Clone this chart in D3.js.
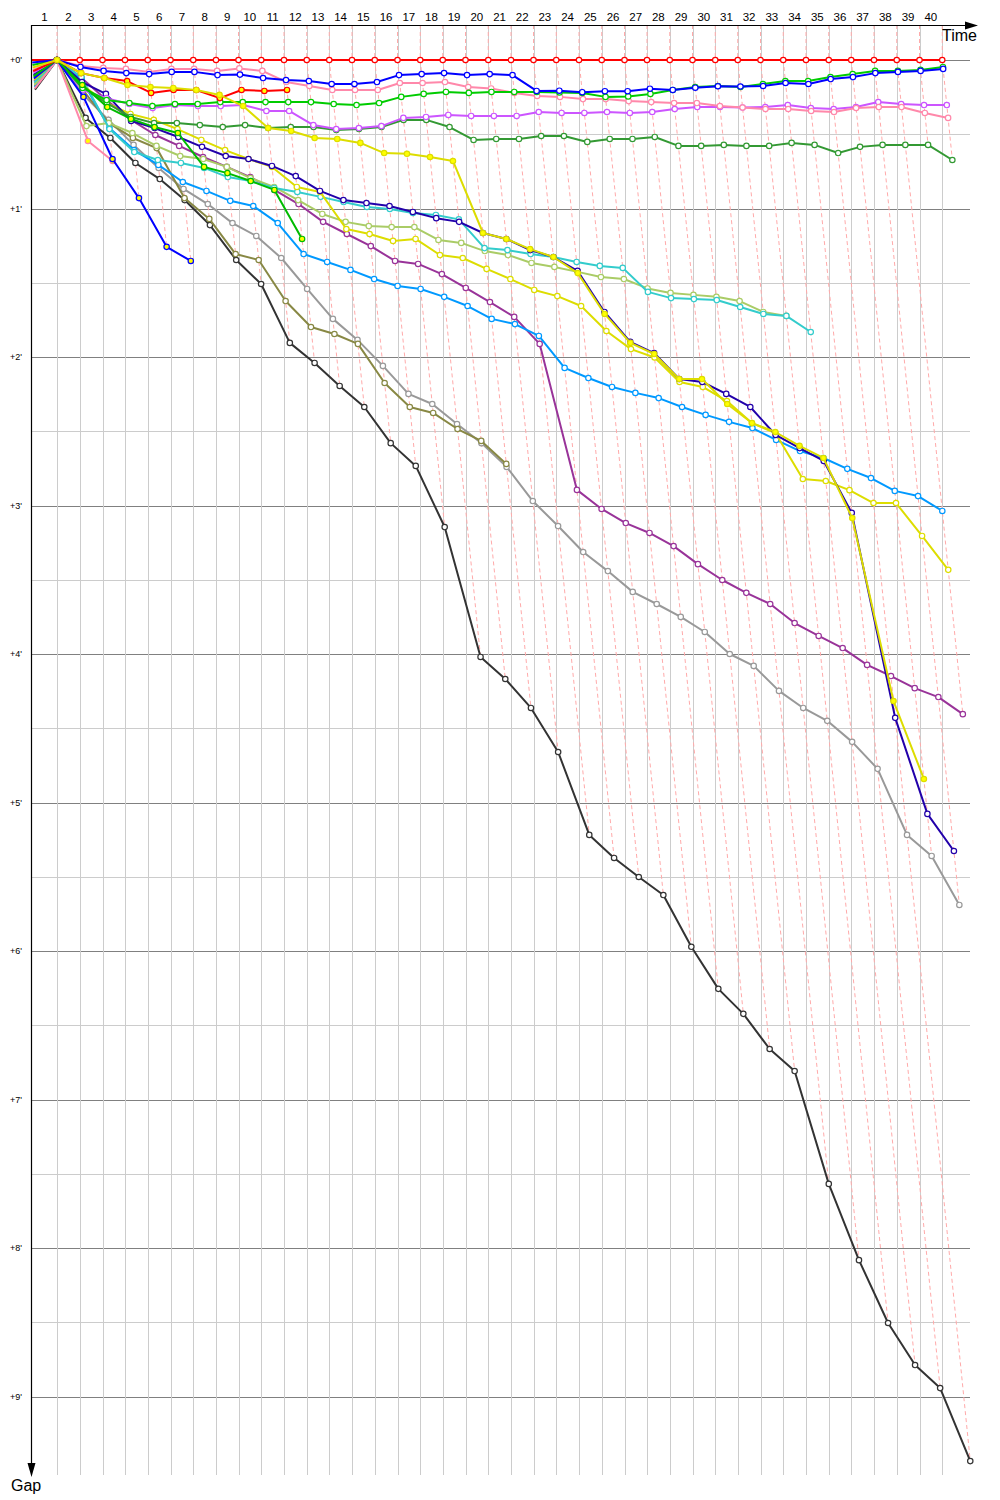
<!DOCTYPE html>
<html>
<head>
<meta charset="utf-8">
<script src="https://cdn.jsdelivr.net/npm/d3@7"></script>
<style>
  body { margin: 0; background: #fff; }
  svg { display: block; font-family: "Liberation Sans", Arial, sans-serif; }
</style>
</head>
<body>
<div id="chart"></div>
<script>
// leader lap times (s), lap 1 .. 40
const leaderLapTimes = [100, 91, 91, 90, 91, 91, 91, 91, 90, 91,
                        91, 91, 90, 91, 91, 91, 91, 90, 91, 91,
                        91, 90, 91, 91, 91, 91, 90, 91, 91, 91,
                        90, 91, 91, 91, 91, 90, 91, 91, 91, 91];
const lapLabels = ['1','2','3','4','5','6','7','8','9','10','11','12','13','14','15','16','17','18','19','20',
                   '21','22','23','24','25','26','27','28','29','30','31','32','33','34','35','36','37','38','39','40'];
const gapTickLabels = ["+0'", "+1'", "+2'", "+3'", "+4'", "+5'", "+6'", "+7'", "+8'", "+9'"];

// gap to leader in seconds, from lap 0 to the last lap completed
const gapsLeader = [0, 0,0,0,0,0,0,0,0,0,0, 0,0,0,0,0,0,0,0,0,0, 0,0,0,0,0,0,0,0,0,0, 0,0,0,0,0,0,0,0,0,0];
const gapsBlue = [1.0, 0, 2.8, 4.4, 5.3, 5.7, 4.8, 4.8, 6.1, 5.9, 7.3,
  8.1, 8.5, 9.7, 9.7, 8.9, 6.1, 5.7, 5.3, 6.1, 5.7,
  6.1, 12.5, 12.4, 13.0, 12.6, 12.6, 11.6, 12.1, 11.2, 10.6,
  10.7, 10.5, 9.3, 9.7, 7.7, 6.9, 5.3, 4.8, 4.4, 3.6];
const gapsGreen = [2.0, 0, 11.3, 16.2, 17.4, 18.6, 17.8, 17.8, 17.0, 17.0, 17.0,
  17.0, 17.0, 17.8, 18.2, 17.4, 14.9, 13.7, 12.9, 13.3, 12.9,
  12.9, 12.9, 13.1, 13.3, 14.9, 14.7, 13.7, 12.1, 10.9, 10.5,
  10.9, 9.7, 8.5, 8.5, 6.9, 5.7, 4.4, 4.4, 4.0, 2.8];
const gapsPink = [4.0, 0, 2.4, 3.2, 3.6, 4.8, 3.6, 3.6, 4.4, 3.4, 4.4,
  8.9, 10.5, 12.1, 12.1, 12.1, 9.3, 9.3, 8.9, 10.9, 11.5,
  13.3, 14.5, 14.9, 15.8, 15.8, 16.6, 17.0, 17.4, 17.4, 18.6,
  19.2, 19.8, 19.8, 20.6, 21.0, 19.4, 19.0, 19.0, 21.4, 23.4];
const gapsViolet = [5.0, 0, 12.1, 15.4, 17.8, 19.4, 18.2, 18.6, 18.6, 18.2, 20.6,
  20.6, 26.3, 27.9, 27.5, 26.7, 23.4, 23.0, 22.2, 22.6, 22.6,
  22.6, 21.0, 21.4, 21.4, 21.0, 21.4, 21.0, 19.8, 19.0, 19.0,
  19.2, 19.0, 18.2, 19.4, 19.8, 19.0, 17.0, 17.8, 18.2, 18.2];
const gapsDarkGreen = [7.0, 0, 11.3, 17.4, 23.0, 25.5, 25.5, 26.3, 27.1, 26.3, 27.5,
  27.1, 27.1, 28.3, 27.9, 27.1, 24.2, 24.2, 27.1, 32.3, 31.9,
  31.9, 30.7, 30.7, 33.1, 31.9, 31.9, 31.1, 34.7, 34.7, 34.3,
  34.7, 34.7, 33.5, 34.3, 37.6, 35.1, 34.3, 34.3, 34.3, 40.4];
const gapsNavy = [6.0, 0, 8.9, 13.7, 24.6, 27.5, 31.1, 35.1, 38.8, 40.0, 42.8,
  46.9, 52.9, 56.6, 57.8, 59.0, 61.4, 63.9, 65.4, 69.9, 72.3,
  76.8, 79.6, 85.2, 101.8, 113.9, 118.4, 128.9, 130.1, 134.9, 140.2,
  151.5, 156.8, 162.0, 183.0, 265.8, 304.6, 319.6];
const gapsYellowA = [3.0, 0, 5.3, 7.3, 10.1, 10.9, 11.3, 12.1, 14.1, 18.6, 27.5,
  28.7, 31.5, 31.9, 33.5, 37.6, 37.9, 39.2, 40.8, 69.9, 72.3,
  76.4, 79.6, 86.1, 102.6, 114.3, 118.8, 128.9, 128.9, 139.0, 146.7,
  150.3, 155.9, 160.8, 185.1, 259.0, 290.5];
const gapsRedB = [4.5, 0, 5.3, 7.3, 8.5, 13.3, 12.1, 12.1, 15.4, 12.1, 12.5, 12.1];
const gapsYellowB = [8.0, 0, 10.1, 17.4, 21.8, 24.2, 27.9, 32.3, 36.4, 40.0, 43.2,
  51.3, 53.3, 68.3, 70.3, 73.1, 72.3, 78.8, 80.0, 84.4, 88.5,
  92.9, 95.4, 99.4, 109.5, 116.8, 120.2, 130.1, 132.1, 137.8, 146.7,
  150.7, 169.3, 170.1, 173.8, 179.0, 179.0, 192.3, 206.0];
const gapsCyan = [9.0, 0, 6.9, 27.9, 37.2, 40.4, 41.6, 43.6, 47.3, 48.9, 51.7,
  53.3, 55.3, 57.4, 59.4, 60.2, 61.8, 62.6, 64.4, 76.0, 76.8,
  78.4, 79.6, 81.6, 83.2, 84.0, 93.7, 96.2, 96.6, 97.0, 99.8,
  102.6, 103.4, 109.9];
const gapsLime = [10.0, 0, 26.7, 25.5, 29.5, 34.7, 38.8, 40.0, 43.2, 47.7, 51.3,
  56.6, 62.2, 65.4, 67.1, 67.5, 67.5, 72.7, 73.9, 77.2, 78.8,
  82.0, 83.6, 85.6, 87.7, 88.5, 92.3, 94.1, 94.9, 95.7, 97.4,
  101.8, 103.4];
const gapsSky = [11.0, 0, 8.1, 27.5, 36.4, 42.4, 49.3, 52.9, 56.9, 59.0, 65.9,
  78.4, 81.6, 84.8, 88.5, 91.3, 92.5, 95.7, 99.4, 104.6, 106.7,
  111.5, 124.4, 128.5, 132.1, 134.5, 136.6, 140.2, 143.4, 146.2, 148.7,
  153.5, 158.0, 160.8, 165.2, 168.9, 174.1, 176.2, 182.2];
const gapsPurple = [8.5, 0, 7.3, 16.2, 24.2, 30.3, 34.7, 39.2, 43.2, 47.3, 52.5,
  58.2, 65.4, 70.3, 75.2, 81.2, 82.4, 86.5, 92.1, 97.8, 103.8,
  114.7, 173.7, 181.4, 187.1, 191.1, 196.4, 203.7, 210.1, 215.3, 219.8,
  227.5, 232.7, 237.6, 244.4, 248.9, 253.8, 257.4, 264.3];
const gapsGrey = [9.5, 0, 14.1, 24.2, 34.3, 43.6, 52.1, 58.2, 65.9, 71.1, 80.0,
  92.5, 104.6, 113.1, 123.6, 134.9, 139.0, 147.1, 154.8, 164.4, 178.2,
  188.3, 198.8, 206.5, 214.9, 219.8, 225.0, 231.1, 240.0, 244.8, 254.9,
  261.8, 267.0, 275.5, 286.4, 313.1, 321.6, 341.4];
const gapsOlive = [10.5, 0, 12.1, 25.5, 31.5, 35.6, 55.8, 64.2, 78.4, 80.8, 97.4,
  107.9, 110.7, 114.7, 130.5, 140.2, 142.6, 149.1, 153.9, 163.2];
const gapsBlack = [12.0, 0, 23.4, 31.5, 41.6, 48.1, 56.6, 66.7, 80.8, 90.5, 114.3,
  122.4, 131.7, 140.2, 154.8, 164.0, 188.7, 241.2, 250.1, 261.8, 279.6,
  313.1, 322.4, 330.1, 337.4, 358.3, 375.3, 385.4, 399.6, 408.5, 454.1,
  484.9, 510.3, 527.3, 536.6, 566.1];
const gapsGreenB = [6.5, 0, 10.1, 19.0, 23.8, 27.1, 29.5, 43.2, 45.7, 48.9, 52.5, 72.3];
const gapsBlueB = [7.5, 0, 14.9, 40.0, 55.8, 75.5, 81.2];
const gapsPinkB = [11.5, 0, 32.7, 40.8];

// drawing order, colour, marker fill
const series = [
  { gaps: gapsLeader,    color: '#ff0000', fill: '#ffffff' },
  { gaps: gapsBlack,     color: '#333333', fill: '#ffffff' },
  { gaps: gapsGrey,      color: '#999999', fill: '#ffffff' },
  { gaps: gapsOlive,     color: '#888844', fill: '#ffffff' },
  { gaps: gapsPurple,    color: '#993399', fill: '#ffffff' },
  { gaps: gapsSky,       color: '#0099ff', fill: '#ffffff' },
  { gaps: gapsLime,      color: '#aacc66', fill: '#ffffff' },
  { gaps: gapsCyan,      color: '#33cccc', fill: '#ffffff' },
  { gaps: gapsYellowB,   color: '#dddd00', fill: '#ffffff' },
  { gaps: gapsNavy,      color: '#2200aa', fill: '#ffffff' },
  { gaps: gapsDarkGreen, color: '#339933', fill: '#ffffff' },
  { gaps: gapsViolet,    color: '#cc55ff', fill: '#ffffff' },
  { gaps: gapsPink,      color: '#ff88aa', fill: '#ffffff' },
  { gaps: gapsGreen,     color: '#00cc00', fill: '#ffffff' },
  { gaps: gapsBlue,      color: '#0000ff', fill: '#ffffff' },
  { gaps: gapsPinkB,     color: '#ff88aa', fill: '#ffff00' },
  { gaps: gapsBlueB,     color: '#0000ff', fill: '#ffff00' },
  { gaps: gapsGreenB,    color: '#00bb00', fill: '#ffff00' },
  { gaps: gapsRedB,      color: '#ff0000', fill: '#ffff00' },
  { gaps: gapsYellowA,   color: '#dddd00', fill: '#ffff00' }
];

const width = 1000, height = 1500;
const plotLeft = 31, plotTop = 25, plotBottom = 1475, plotRight = 970;

// cumulative leader time at end of each lap
const lapEnd = [0];
leaderLapTimes.forEach((t, i) => lapEnd.push(lapEnd[i] + t));

const x = d3.scaleLinear().domain([0, 3800]).range([32, 982]);
const y = d3.scaleLinear().domain([0, 600]).range([60, 1545]);

const svg = d3.select('#chart').append('svg')
  .attr('width', width).attr('height', height);

// horizontal grid (every 30 s, darker every minute)
const gridGaps = d3.range(0, 541, 30);
svg.append('g').selectAll('line').data(gridGaps).enter().append('line')
  .attr('x1', plotLeft).attr('x2', plotRight)
  .attr('y1', d => Math.round(y(d)) + 0.5).attr('y2', d => Math.round(y(d)) + 0.5)
  .attr('stroke', d => d % 60 === 0 ? '#808080' : '#cccccc')
  .attr('stroke-width', 1);

// vertical grid at leader lap times
const laps = d3.range(1, lapEnd.length);
svg.append('g').selectAll('line').data(laps).enter().append('line')
  .attr('x1', d => Math.round(x(lapEnd[d])) + 0.5).attr('x2', d => Math.round(x(lapEnd[d])) + 0.5)
  .attr('y1', plotTop).attr('y2', plotBottom)
  .attr('stroke', '#cccccc').attr('stroke-width', 1);

// lap lines: from the leader down through every car on the same lap
const lapLine = d3.line();
svg.append('g').selectAll('path').data(laps).enter().append('path')
  .attr('d', k => {
    const maxGap = d3.max(series.filter(s => s.gaps.length > k), s => s.gaps[k]);
    return lapLine([
      [x(lapEnd[k]), plotTop],
      [x(lapEnd[k]), y(0)],
      [x(lapEnd[k] + maxGap), y(maxGap)]
    ]);
  })
  .attr('fill', 'none')
  .attr('stroke', '#ffaaaa')
  .attr('stroke-width', 1)
  .attr('stroke-dasharray', '4,3');

// cars
const carLine = d3.line().x(d => x(d.t)).y(d => y(d.g));
series.forEach(s => {
  const pts = s.gaps.map((g, lap) => ({ lap: lap, g: g, t: lapEnd[lap] + g }));
  const grp = svg.append('g');
  grp.append('path')
    .attr('d', carLine(pts))
    .attr('fill', 'none')
    .attr('stroke', s.color)
    .attr('stroke-width', 2)
    .attr('stroke-linejoin', 'round');
  grp.selectAll('circle').data(pts.filter(p => p.lap > 0)).enter().append('circle')
    .attr('cx', d => x(d.t)).attr('cy', d => y(d.g))
    .attr('r', 2.7)
    .attr('fill', s.fill)
    .attr('stroke', s.color)
    .attr('stroke-width', 1.2);
});

// axes with arrows
svg.append('line')
  .attr('x1', plotLeft).attr('x2', 968).attr('y1', plotTop + 0.5).attr('y2', plotTop + 0.5)
  .attr('stroke', '#000').attr('stroke-width', 1.2);
svg.append('path')
  .attr('d', 'M978,25.5 L965,21.5 L965,29.5 Z').attr('fill', '#000');
svg.append('line')
  .attr('x1', plotLeft + 0.5).attr('x2', plotLeft + 0.5).attr('y1', plotTop).attr('y2', 1466)
  .attr('stroke', '#000').attr('stroke-width', 1.2);
svg.append('path')
  .attr('d', 'M31.5,1477 L27.5,1463 L35.5,1463 Z').attr('fill', '#000');

// lap numbers centred on each lap
svg.append('g').selectAll('text').data(lapLabels).enter().append('text')
  .attr('x', (d, i) => (x(lapEnd[i]) + x(lapEnd[i + 1])) / 2)
  .attr('y', 21)
  .attr('text-anchor', 'middle')
  .attr('font-size', 11.5)
  .attr('fill', '#000')
  .text(d => d);

// gap labels
svg.append('g').selectAll('text').data(gapTickLabels).enter().append('text')
  .attr('x', 22)
  .attr('y', (d, i) => y(i * 60) + 3)
  .attr('text-anchor', 'end')
  .attr('font-size', 9)
  .attr('fill', '#000')
  .text(d => d);

svg.append('text')
  .attr('x', 977).attr('y', 41)
  .attr('text-anchor', 'end')
  .attr('font-size', 16)
  .text('Time');
svg.append('text')
  .attr('x', 11).attr('y', 1491)
  .attr('font-size', 16)
  .text('Gap');
</script>
</body>
</html>
